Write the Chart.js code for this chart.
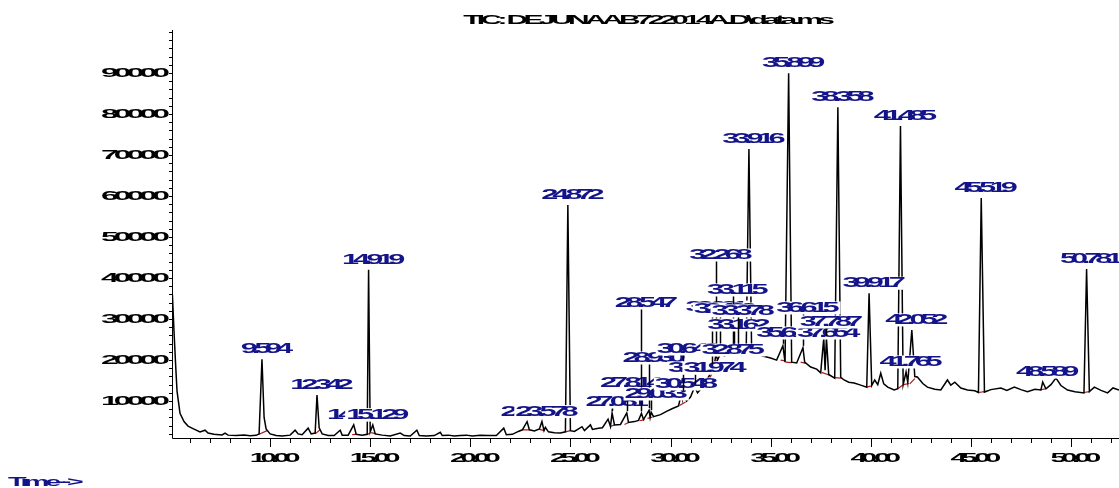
<!DOCTYPE html>
<html><head><meta charset="utf-8">
<script src="https://cdn.jsdelivr.net/npm/chart.js@4"></script>
<style>html,body{margin:0;padding:0;background:#fff}#wrap{width:1119px;height:488px;position:relative}</style>
</head><body><div id="wrap"><canvas id="c" width="1119" height="488"></canvas></div>
<script>
const chartTitle = "TIC: DEJUNAAB722014A.D\\data.ms";
const xAxisTitle = "Time-->";
const xTickValues = [10, 15, 20, 25, 30, 35, 40, 45, 50];
const xTickLabels = ["10.00", "15.00", "20.00", "25.00", "30.00", "35.00", "40.00", "45.00", "50.00"];
const yTickValues = [10000, 20000, 30000, 40000, 50000, 60000, 70000, 80000, 90000];
const yTickLabels = ["10000", "20000", "30000", "40000", "50000", "60000", "70000", "80000", "90000"];

// [retention time (min), abundance]
const tic = [
[5.12,36000],[5.2,27000],[5.28,19000],[5.35,12500],[5.5,7000],[5.7,5000],[5.9,3900],[6.15,3300],[6.5,2500],[6.75,2900],[6.9,2200],[7.2,1900],[7.6,1750],[7.75,2200],[7.9,1700],[8.3,1600],[8.7,1750],[9.0,1550],[9.3,1650],[9.45,2000],[9.594,20200],[9.7,6000],[9.8,3200],[10.0,2000],[10.3,1600],[10.6,1500],[11.0,1700],[11.25,2900],[11.4,2000],[11.6,1800],[11.9,3400],[12.05,2000],[12.25,2200],[12.342,11500],[12.45,3500],[12.6,2000],[12.9,1600],[13.2,1600],[13.5,2900],[13.6,1700],[13.9,1700],[14.176,4200],[14.3,1900],[14.6,1700],[14.85,1900],[14.919,42000],[15.0,2500],[15.129,4200],[15.25,2000],[15.6,1700],[16.0,1500],[16.5,2200],[16.7,1600],[17.0,1500],[17.33,2900],[17.45,1600],[17.8,1500],[18.2,1600],[18.5,2400],[18.6,1600],[18.9,1700],[19.2,1500],[19.5,1600],[19.8,1700],[20.1,1500],[20.5,1700],[20.9,1600],[21.3,1600],[21.67,3400],[21.8,1800],[22.1,1900],[22.4,2600],[22.6,3000],[22.835,5000],[22.95,3000],[23.2,2700],[23.45,3200],[23.578,5000],[23.68,2800],[23.75,3600],[23.9,2500],[24.2,2300],[24.5,2200],[24.75,2500],[24.872,57800],[25.0,2800],[25.2,2600],[25.58,3750],[25.7,2800],[26.0,4200],[26.1,3100],[26.4,3400],[26.6,3500],[26.88,5600],[27.0,3800],[27.081,7100],[27.2,4200],[27.5,4300],[27.814,7100],[27.9,4800],[28.2,5000],[28.4,5300],[28.547,7000],[28.65,5500],[28.93,7800],[28.98,6000],[29.033,7300],[29.15,6200],[29.5,6700],[29.8,7500],[30.1,8200],[30.4,8800],[30.548,12000],[30.6,10500],[30.64,12000],[30.8,10000],[31.0,11000],[31.208,13500],[31.35,12000],[31.6,13500],[31.974,16500],[32.081,18500],[32.15,17500],[32.268,21500],[32.35,20000],[32.486,21500],[32.7,21000],[32.875,23000],[33.0,21800],[33.115,23500],[33.14,22500],[33.162,23500],[33.25,22000],[33.378,23500],[33.6,22000],[33.78,22200],[33.916,71500],[34.05,22500],[34.3,21500],[34.6,21000],[35.0,20500],[35.3,20000],[35.612,23500],[35.72,19500],[35.899,89950],[36.05,19500],[36.3,19300],[36.615,23000],[36.7,19500],[37.0,18300],[37.3,17800],[37.5,16900],[37.654,25400],[37.72,17500],[37.787,25400],[37.9,16500],[38.2,15600],[38.358,81650],[38.5,15800],[38.67,15150],[38.9,14600],[39.17,14400],[39.5,13900],[39.8,13400],[39.917,36300],[40.05,13800],[40.2,15150],[40.35,14000],[40.5,16800],[40.65,14200],[40.85,13400],[41.17,12700],[41.35,13000],[41.485,77100],[41.62,14000],[41.765,17100],[41.85,14500],[42.052,27350],[42.2,16000],[42.33,15900],[42.6,14300],[42.83,13400],[43.2,12900],[43.5,12700],[43.83,15150],[44.0,13900],[44.2,14600],[44.5,13200],[44.83,12700],[45.2,12500],[45.38,12100],[45.519,59500],[45.68,12200],[46.0,12800],[46.5,13200],[46.8,12600],[47.17,13400],[47.5,12800],[47.83,12300],[48.2,12900],[48.5,12700],[48.589,14650],[48.75,13000],[49.0,14000],[49.25,15600],[49.5,13800],[49.83,12700],[50.2,12300],[50.65,12000],[50.781,42200],[50.92,12300],[51.17,13400],[51.5,12600],[51.83,12000],[52.1,13200],[52.4,12700]
];

// integration baselines: [t1, v1, t2, v2]
const integrationBaselines = [
[9.45,1900,9.85,2800],[12.25,2000,12.5,3000],[14.1,1800,14.3,1900],[14.85,1800,15.0,2300],[15.05,2300,15.3,2000],
[22.6,3000,22.95,3000],[23.45,3100,23.7,2800],[24.75,2500,25.0,2800],[27.0,3800,27.2,4200],[27.7,4300,27.9,4800],
[28.45,5200,28.7,5500],[28.85,5800,29.1,6100],[30.45,8900,30.75,9800],[31.9,15000,32.1,17000],[32.2,19500,32.35,20000],
[33.05,22000,33.25,22000],[33.3,22200,33.5,22400],[33.78,22000,34.05,22300],[35.5,20000,35.75,19800],[35.75,19500,36.05,19400],
[36.5,19500,36.75,19200],[37.55,17000,37.95,16300],[38.2,15700,38.5,15600],[39.8,13400,40.05,13700],[41.35,13000,41.62,14000],
[41.65,14000,41.9,14300],[41.95,14200,42.2,15500],[45.38,12100,45.68,12300],[48.45,12700,48.7,13000],[50.65,12100,50.92,12300]
];

const peakTimes = [9.594,12.342,14.176,14.919,15.129,22.835,23.578,24.872,27.081,27.814,28.547,28.93,29.033,30.548,30.64,31.208,31.974,32.081,32.268,32.486,32.875,33.115,33.162,33.378,33.916,35.612,35.899,36.615,37.654,37.787,38.358,39.917,41.485,41.765,42.052,45.519,48.589,50.781];
const peakLabels = ["9.594","12.342","14.176","14.919","15.129","22.835","23.578","24.872","27.081","27.814","28.547","28.930","29.033","30.548","30.640","31.208","31.974","32.081","32.268","32.486","32.875","33.115","33.162","33.378","33.916","35.612","35.899","36.615","37.654","37.787","38.358","39.917","41.485","41.765","42.052","45.519","48.589","50.781"];

// annotation layout: label levels (abundance units) for crowded labels that are lifted with leader lines
const labelLevels = {"27.081":9780,"27.814":14410,"28.547":33930,"28.930":20510,"29.033":11730,"30.548":14170,"30.640":22710,"31.208":18070,"31.974":18070,"32.081":32950,"32.268":45630,"32.486":32460,"32.875":22460,"33.115":37100,"33.162":28560,"33.378":31980,"35.612":26610,"36.615":32710,"37.654":26610,"37.787":29290};

const NAVY = '#14148a';
function sText(ctx, txt, x, y, o) {
  ctx.save();
  ctx.font = (o.weight || 'normal') + ' ' + o.size + 'px "Liberation Sans", Arial, sans-serif';
  ctx.letterSpacing = o.ls + 'px';
  const w = (ctx.measureText(txt).width - o.ls) * o.sx;
  let left = o.align === 'center' ? x - w / 2 : o.align === 'right' ? x - w : x;
  if (o.bg) { ctx.fillStyle = o.bg; ctx.fillRect(left - 1, y - 6.5, w + 2, 13); }
  ctx.translate(left, y);
  ctx.scale(o.sx, 1);
  ctx.textAlign = 'left'; ctx.textBaseline = 'middle';
  ctx.fillStyle = o.color;
  ctx.fillText(txt, 0, 0);
  ctx.restore();
  return w;
}

const apexOf = t => { const p = tic.find(d => d[0] === t); return p ? p[1] : 0; };

const overlay = {
  id: 'overlay',
  afterDatasetsDraw(chart) {
    const ctx = chart.ctx, xs = chart.scales.x, ys = chart.scales.y, a = chart.chartArea;
    ctx.save();
    ctx.strokeStyle = '#000'; ctx.lineWidth = 1;
    ctx.beginPath();
    ctx.moveTo(a.left + 0.5, a.top); ctx.lineTo(a.left + 0.5, a.bottom + 0.5);
    ctx.lineTo(a.right, a.bottom + 0.5); ctx.stroke();
    ctx.beginPath();
    for (let t = Math.ceil(xs.min); t <= xs.max; t++) {
      const px = Math.round(xs.getPixelForValue(t)) + 0.5;
      const len = (t % 5 === 0) ? 9 : 5;
      ctx.moveTo(px, a.bottom); ctx.lineTo(px, a.bottom + len);
    }
    for (let v = 2000; v <= ys.max; v += 2000) {
      const py = Math.round(ys.getPixelForValue(v)) + 0.5;
      ctx.moveTo(a.left - 3, py); ctx.lineTo(a.left, py);
    }
    ctx.stroke();
    xTickValues.forEach((v, i) => {
      sText(ctx, xTickLabels[i], xs.getPixelForValue(v) + 5, a.bottom + 20, {size: 13, weight: 'bold', ls: -2.5, sx: 2.25, color: '#000', align: 'center'});
    });
    yTickValues.forEach((v, i) => {
      sText(ctx, yTickLabels[i], a.left - 2, ys.getPixelForValue(v), {size: 13, weight: 'bold', ls: -2, sx: 2.45, color: '#000', align: 'right'});
    });
    sText(ctx, chartTitle, 649, 20, {size: 13, weight: 'bold', ls: -2, sx: 2.3, color: '#000', align: 'center'});
    sText(ctx, xAxisTitle, 8, 482, {size: 13, weight: 'bold', ls: -2, sx: 2.2, color: NAVY, align: 'left'});
    peakTimes.forEach((t, i) => {
      const txt = peakLabels[i];
      const px = xs.getPixelForValue(t);
      const apexY = ys.getPixelForValue(apexOf(t));
      let ly = apexY - 10;
      if (labelLevels[txt] !== undefined) {
        ly = ys.getPixelForValue(labelLevels[txt]);
        ctx.strokeStyle = '#000'; ctx.lineWidth = 1.5;
        ctx.beginPath(); ctx.moveTo(Math.round(px) + 0.5, ly + 6); ctx.lineTo(Math.round(px) + 0.5, apexY - 2); ctx.stroke();
      }
      sText(ctx, txt, px + 5, ly, {size: 15, weight: 'bold', ls: -3, sx: 2.05, color: NAVY, align: 'center', bg: '#fff'});
    });
    ctx.restore();
  }
};

const baselineData = [];
integrationBaselines.forEach(s => { baselineData.push({x: s[0], y: s[1]}, {x: s[2], y: s[3]}, {x: s[2], y: null}); });

new Chart(document.getElementById('c'), {
  type: 'line',
  data: {
    datasets: [
      {data: tic.map(d => ({x: d[0], y: d[1]})), borderColor: '#000', borderWidth: 1.5, pointRadius: 0, tension: 0},
      {data: baselineData, borderColor: '#b01818', borderWidth: 1.2, pointRadius: 0, tension: 0, spanGaps: false}
    ]
  },
  options: {
    responsive: false, animation: false, devicePixelRatio: 1,
    layout: {padding: {left: 172, top: 30, right: 0, bottom: 50}},
    scales: {
      x: {type: 'linear', min: 5.1, max: 52.4, display: false},
      y: {type: 'linear', min: 1000, max: 100500, display: false}
    },
    plugins: {legend: {display: false}, tooltip: {enabled: false}}
  },
  plugins: [overlay]
});
</script></body></html>
